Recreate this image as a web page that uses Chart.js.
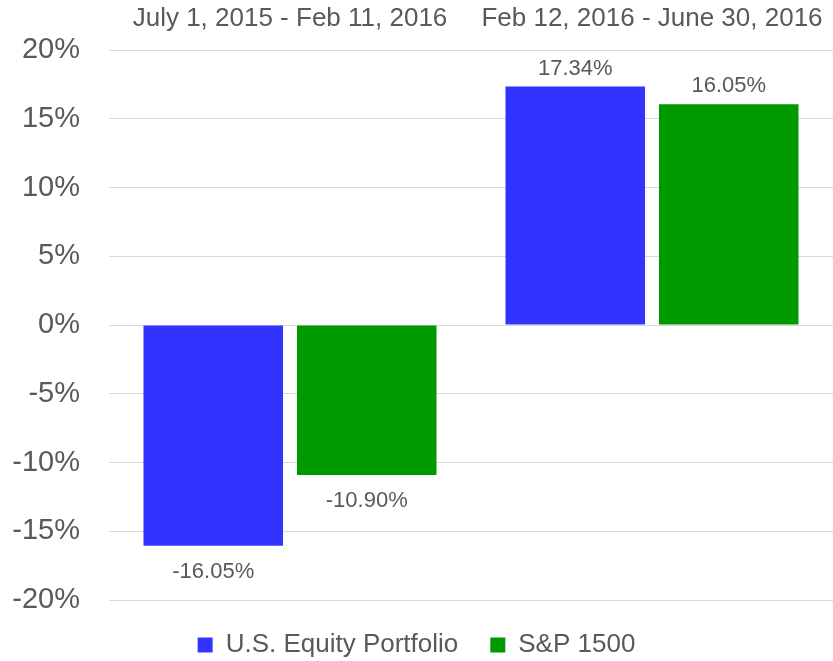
<!DOCTYPE html>
<html>
<head>
<meta charset="utf-8">
<script src="https://cdn.jsdelivr.net/npm/chart.js@4/dist/chart.umd.min.js"></script>
<style>
  html, body { margin: 0; padding: 0; background: #ffffff; }
  #wrap { width: 833px; height: 661px; position: relative; }
</style>
</head>
<body>
<div id="wrap"><canvas id="c"></canvas></div>
<script>
const categories = ["July 1, 2015 - Feb 11, 2016", "Feb 12, 2016 - June 30, 2016"];
const equityPortfolio = [-16.05, 17.34];
const sp1500 = [-10.90, 16.05];
const yTicks = [-20, -15, -10, -5, 0, 5, 10, 15, 20];

const FONT = "'Liberation Sans', Arial, sans-serif";
const TEXT = '#595959';

const valueLabels = {
  id: 'valueLabels',
  afterDatasetsDraw(chart) {
    const ctx = chart.ctx;
    ctx.save();
    ctx.font = '22px ' + FONT;
    ctx.fillStyle = TEXT;
    ctx.textAlign = 'center';
    ctx.textBaseline = 'alphabetic';
    chart.data.datasets.forEach((ds, di) => {
      const meta = chart.getDatasetMeta(di);
      meta.data.forEach((el, i) => {
        const v = ds.data[i];
        const txt = v.toFixed(2) + '%';
        const y = v >= 0 ? el.y - 12 : el.y + 32;
        ctx.fillText(txt, el.x, y);
      });
    });
    ctx.restore();
  }
};

new Chart(document.getElementById('c'), {
  type: 'bar',
  data: {
    labels: categories,
    datasets: [
      { label: 'U.S. Equity Portfolio', data: equityPortfolio, backgroundColor: '#3333FF',
        categoryPercentage: 0.848, barPercentage: 0.909 },
      { label: 'S&P 1500', data: sp1500, backgroundColor: '#009900',
        categoryPercentage: 0.848, barPercentage: 0.909 }
    ]
  },
  options: {
    responsive: true,
    maintainAspectRatio: false,
    animation: false,
    layout: { padding: { left: 0, right: 0, top: 0, bottom: -7 } },
    plugins: {
      legend: {
        position: 'bottom',
        labels: {
          font: { family: FONT, size: 26 },
          color: TEXT,
          boxWidth: 15,
          boxHeight: 15,
          padding: 32
        }
      },
      tooltip: { enabled: false }
    },
    scales: {
      x: {
        position: 'top',
        grid: { display: false, drawTicks: false },
        border: { display: false },
        ticks: { font: { family: FONT, size: 26 }, color: TEXT, padding: 16, maxRotation: 0, autoSkip: false },
        afterFit(scale) {
          scale.height = 50;
          scale.paddingLeft = 0;
          scale.paddingRight = 0;
        }
      },
      y: {
        min: -20, max: 20,
        afterBuildTicks(scale) { scale.ticks = yTicks.map(v => ({ value: v })); },
        grid: { color: '#D9D9D9', lineWidth: 1, drawTicks: false },
        border: { display: false },
        ticks: {
          font: { family: FONT, size: 29 }, color: TEXT, padding: 29,
          callback: (v) => v + '%'
        },
        afterFit(scale) {
          scale.width = 109;
          scale.paddingTop = 0;
          scale.paddingBottom = 0;
        }
      }
    }
  },
  plugins: [valueLabels]
});
</script>
</body>
</html>
